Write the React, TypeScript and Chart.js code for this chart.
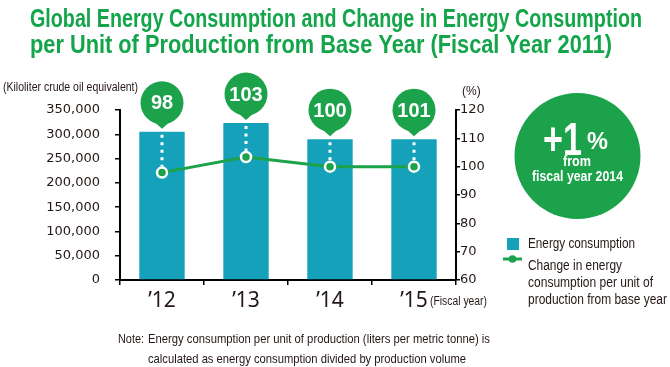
import React, { useEffect, useRef } from 'react';
import { Chart, registerables } from 'chart.js';

Chart.register(...registerables);

// ---- Data ----
const categories = ['’12', '’13', '’14', '’15'];
const energyConsumption = [305000, 323000, 290000, 290000];
const unitChange = [97.9, 103.4, 100, 100];
const calloutLabels = ['98', '103', '100', '101'];
const leftTickMin = 0;
const leftTickMax = 350000;
const leftTickStep = 50000;
const rightTickMin = 60;
const rightTickMax = 120;
const rightTickStep = 10;

const titleLines = [
  'Global Energy Consumption and Change in Energy Consumption',
  'per Unit of Production from Base Year (Fiscal Year 2011)',
];
const legendBar = 'Energy consumption';
const legendLine = ['Change in energy', 'consumption per unit of', 'production from base year'];
const noteLines = [
  'Energy consumption per unit of production (liters per metric tonne) is',
  'calculated as energy consumption divided by production volume',
];

const TEAL = '#15a1ba';
const GREEN = '#1ba24a';
const TITLE_GREEN = '#14a54b';
const INK = '#231815';
const NARROW = "'Liberation Sans Narrow', 'Liberation Sans', Arial, sans-serif";

function fmt(v: number) {
  return String(v).replace(/\B(?=(\d{3})+(?!\d))/g, ',');
}

function txt(
  ctx: CanvasRenderingContext2D,
  s: string,
  x: number,
  y: number,
  font: string,
  color: string,
  align: CanvasTextAlign,
  baseline: CanvasTextBaseline,
  maxW?: number
) {
  ctx.font = font;
  ctx.fillStyle = color;
  ctx.textAlign = align;
  ctx.textBaseline = baseline;
  if (maxW) ctx.fillText(s, x, y, maxW);
  else ctx.fillText(s, x, y);
}

const overlayPlugin = {
  id: 'overlay',
  afterDatasetDraw(chart: any, args: any) {
    if (args.index !== 0) return;
    const ctx: CanvasRenderingContext2D = chart.ctx;
    const barMeta = chart.getDatasetMeta(0);
    const lineMeta = chart.getDatasetMeta(1);
    ctx.save();
    ctx.strokeStyle = '#ffffff';
    ctx.lineWidth = 3;
    ctx.setLineDash([3, 4.5]);
    barMeta.data.forEach((bar: any, i: number) => {
      const p = lineMeta.data[i];
      ctx.beginPath();
      ctx.moveTo(bar.x, bar.y + 3);
      ctx.lineTo(bar.x, p.y - 6);
      ctx.stroke();
    });
    ctx.restore();
  },
  afterDraw(chart: any) {
    const ctx: CanvasRenderingContext2D = chart.ctx;
    const barMeta = chart.getDatasetMeta(0);
    ctx.save();

    // Title
    txt(ctx, titleLines[0], 30, 27, `bold 26px ${NARROW}`, TITLE_GREEN, 'left', 'alphabetic', 612);
    txt(ctx, titleLines[1], 30, 53, `bold 26px ${NARROW}`, TITLE_GREEN, 'left', 'alphabetic', 582);

    // Axis titles
    txt(ctx, '(Kiloliter crude oil equivalent)', 3, 88, `12px ${NARROW}`, INK, 'left', 'middle', 135);
    txt(ctx, '(%)', 462, 92, `12px ${NARROW}`, INK, 'left', 'middle', 21);
    txt(ctx, '(Fiscal year)', 430, 302, `12px ${NARROW}`, INK, 'left', 'middle', 57);

    // Callout bubbles
    barMeta.data.forEach((bar: any, i: number) => {
      const cx = bar.x;
      const cy = bar.y - 29;
      const r = 21.5;
      ctx.fillStyle = GREEN;
      ctx.beginPath();
      ctx.arc(cx, cy, r, 0, Math.PI * 2);
      ctx.fill();
      ctx.beginPath();
      ctx.moveTo(cx - 9, cy + 18);
      ctx.lineTo(cx + 9, cy + 18);
      ctx.lineTo(cx, bar.y - 3);
      ctx.closePath();
      ctx.fill();
      txt(ctx, calloutLabels[i], cx, cy + 1, "bold 20px 'Liberation Sans', Arial, sans-serif", '#ffffff', 'center', 'middle');
    });

    // Big circle
    ctx.fillStyle = GREEN;
    ctx.beginPath();
    ctx.arc(577.5, 156, 63, 0, Math.PI * 2);
    ctx.fill();
    txt(ctx, '+1', 543, 155, `bold 46px ${NARROW}`, '#ffffff', 'left', 'alphabetic', 39);
    txt(ctx, '%', 587, 149, `bold 24px ${NARROW}`, '#ffffff', 'left', 'alphabetic', 21);
    txt(ctx, 'from', 577, 162, `bold 15px ${NARROW}`, '#ffffff', 'center', 'middle', 28);
    txt(ctx, 'fiscal year 2014', 577.5, 177, `bold 15px ${NARROW}`, '#ffffff', 'center', 'middle', 91);

    // Legend
    ctx.fillStyle = TEAL;
    ctx.fillRect(507, 238, 12, 12);
    txt(ctx, legendBar, 528, 244, `14px ${NARROW}`, INK, 'left', 'middle', 107);
    ctx.strokeStyle = GREEN;
    ctx.lineWidth = 3;
    ctx.beginPath();
    ctx.moveTo(503, 259);
    ctx.lineTo(522, 259);
    ctx.stroke();
    ctx.fillStyle = GREEN;
    ctx.beginPath();
    ctx.arc(512.5, 259, 3.8, 0, Math.PI * 2);
    ctx.fill();
    const lw = [94, 125, 139];
    const ly = [266, 283, 300];
    legendLine.forEach((s, i) => txt(ctx, s, 528, ly[i], `14px ${NARROW}`, INK, 'left', 'middle', lw[i]));

    // Note
    txt(ctx, 'Note:', 118, 339, `13px ${NARROW}`, INK, 'left', 'middle', 26);
    txt(ctx, noteLines[0], 148, 339, `13px ${NARROW}`, INK, 'left', 'middle', 342);
    txt(ctx, noteLines[1], 148, 359, `13px ${NARROW}`, INK, 'left', 'middle', 318);

    ctx.restore();
  },
};

export default function App() {
  const canvasRef = useRef<HTMLCanvasElement | null>(null);

  useEffect(() => {
    if (!canvasRef.current) return;
    const axisGrid = {
      drawOnChartArea: false,
      drawTicks: true,
      color: '#000000',
      lineWidth: 1.5,
    };
    const chart = new Chart(canvasRef.current, {
      type: 'bar',
      data: {
        labels: categories,
        datasets: [
          {
            type: 'bar',
            label: legendBar,
            data: energyConsumption,
            backgroundColor: TEAL,
            barPercentage: 0.54,
            categoryPercentage: 1,
            yAxisID: 'y',
            order: 2,
          },
          {
            type: 'line',
            label: legendLine.join(' '),
            data: unitChange,
            yAxisID: 'y1',
            borderColor: GREEN,
            borderWidth: 3,
            pointRadius: 5,
            pointBorderWidth: 2.5,
            pointBackgroundColor: GREEN,
            pointBorderColor: '#ffffff',
            order: 1,
          },
        ],
      } as any,
      options: {
        animation: false,
        responsive: false,
        layout: { padding: { top: 110, left: 0, right: 0, bottom: 0 } },
        plugins: {
          legend: { display: false },
          tooltip: { enabled: false },
          title: { display: false },
        },
        scales: {
          x: {
            offset: true,
            grid: { ...axisGrid, offset: true, tickLength: 5 },
            border: { color: '#000000', width: 2 },
            ticks: {
              font: { family: "'Noto Sans', sans-serif", size: 21 },
              color: INK,
              padding: 3,
            },
            afterFit: (s: any) => {
              s.height = 87;
            },
          },
          y: {
            position: 'left',
            min: leftTickMin,
            max: leftTickMax,
            ticks: {
              stepSize: leftTickStep,
              callback: (v: any) => fmt(Number(v)),
              font: { family: "'DejaVu Sans', sans-serif", size: 13 },
              color: INK,
              padding: 15,
            },
            grid: { ...axisGrid, tickLength: 5 },
            border: { color: '#000000', width: 2 },
            afterFit: (s: any) => {
              s.width = 120;
            },
          },
          y1: {
            position: 'right',
            min: rightTickMin,
            max: rightTickMax,
            ticks: {
              stepSize: rightTickStep,
              font: { family: "'DejaVu Sans', sans-serif", size: 13 },
              color: INK,
              padding: 0,
            },
            grid: { ...axisGrid, tickLength: 4 },
            border: { color: '#000000', width: 2 },
            afterFit: (s: any) => {
              s.width = 214;
            },
          },
        },
      } as any,
      plugins: [overlayPlugin],
    });
    return () => chart.destroy();
  }, []);

  return (
    <div style={{ position: 'absolute', left: 0, top: 0, width: 670, height: 367, background: '#ffffff' }}>
      <canvas ref={canvasRef} width={670} height={367} />
    </div>
  );
}
